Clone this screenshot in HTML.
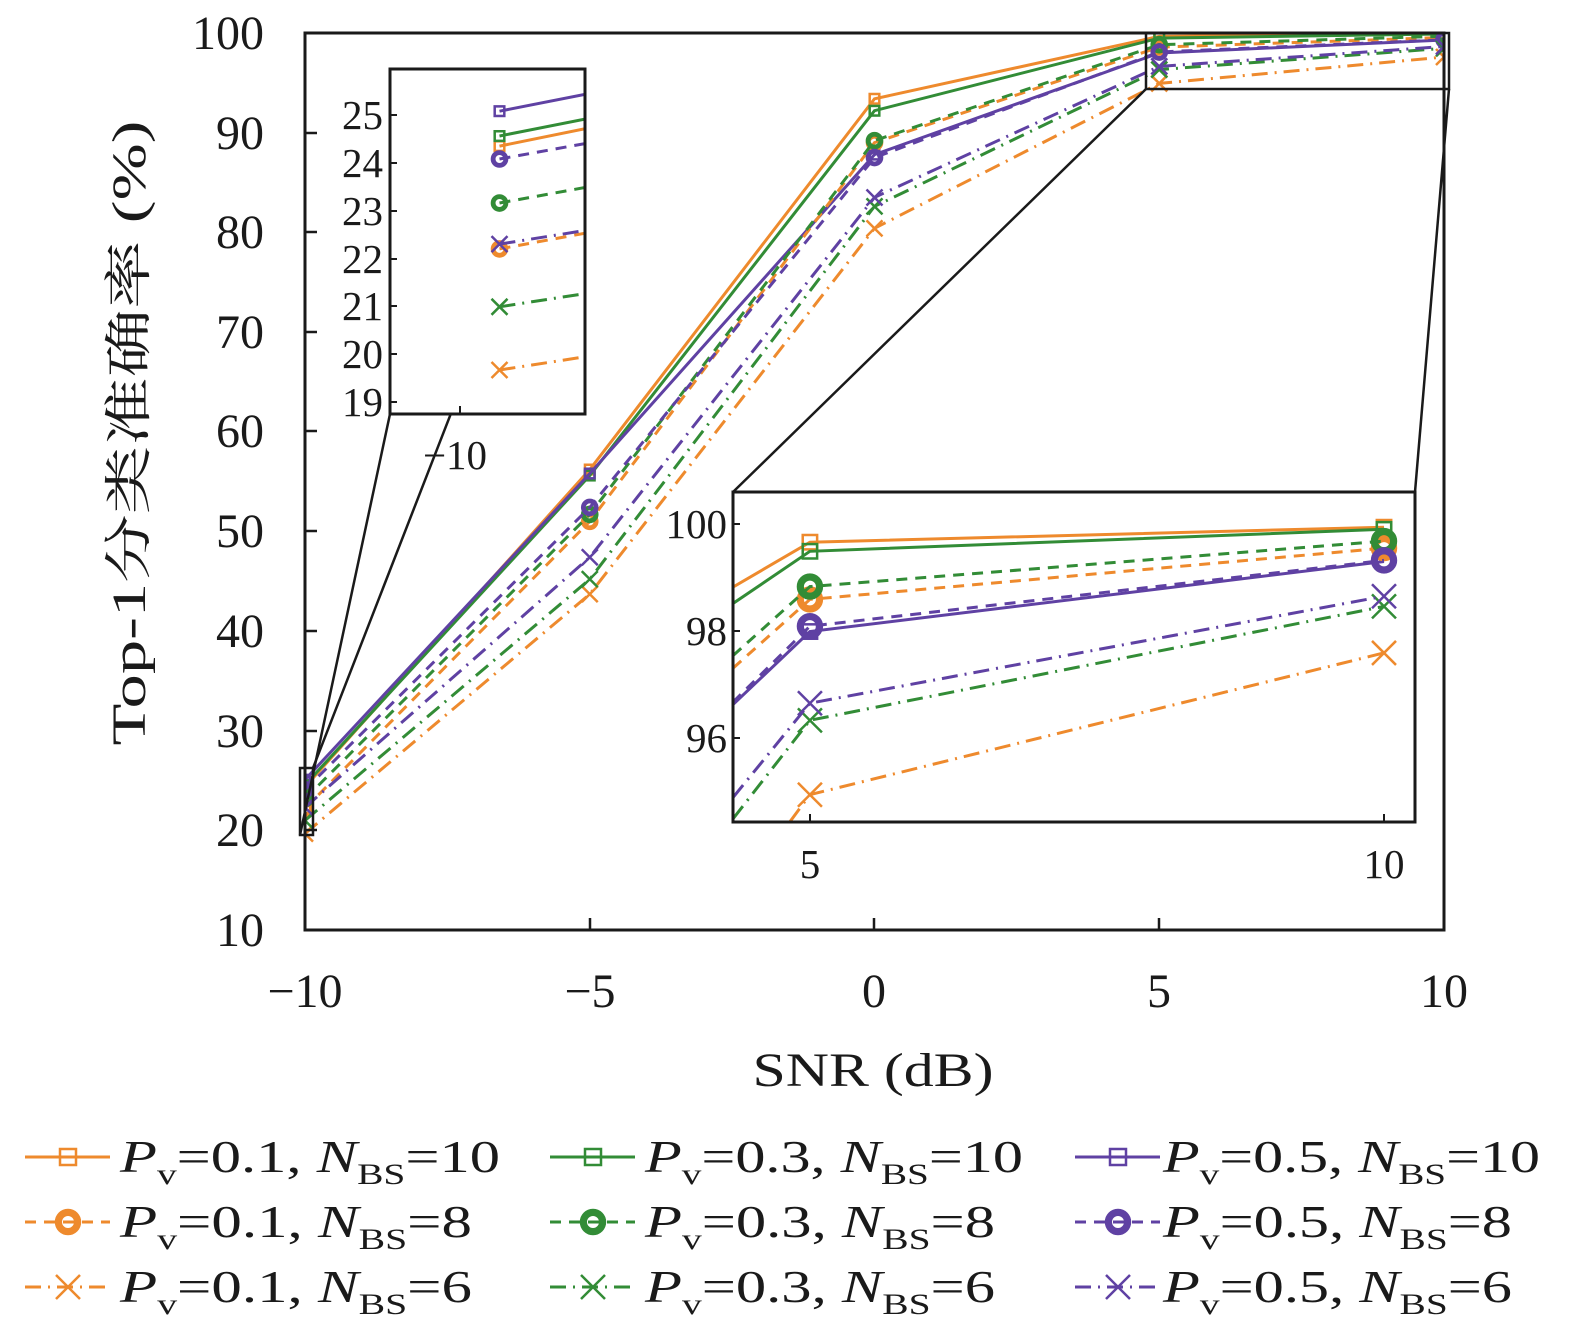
<!DOCTYPE html>
<html><head><meta charset="utf-8"><style>
html,body{margin:0;padding:0;background:#fff;overflow:hidden;width:1575px;height:1339px;}
body{position:relative;}
svg{position:absolute;left:0;top:0;display:block;}
text{font-family:"Liberation Serif","Noto Serif CJK SC",serif;fill:#1a1a1a;}
</style></head><body>
<svg id="s" width="1575" height="1339" viewBox="0 0 1575 1339" xmlns="http://www.w3.org/2000/svg" overflow="hidden">
<defs>
<clipPath id="cm"><rect x="305" y="33" width="1139" height="897"/></clipPath>
<clipPath id="cl"><rect x="390" y="69" width="195" height="345"/></clipPath>
<clipPath id="cr"><rect x="733" y="492" width="682" height="330"/></clipPath>
</defs>
<g id="main" clip-path="url(#cm)"></g>
<rect x="305" y="33" width="1139" height="897" fill="none" stroke="#1a1a1a" stroke-width="3"/>
<g stroke="#1a1a1a" stroke-width="2.5">
<line x1="305" y1="133" x2="317" y2="133"/><line x1="305" y1="232" x2="317" y2="232"/><line x1="305" y1="332" x2="317" y2="332"/><line x1="305" y1="431" x2="317" y2="431"/><line x1="305" y1="531" x2="317" y2="531"/><line x1="305" y1="631" x2="317" y2="631"/><line x1="305" y1="731" x2="317" y2="731"/><line x1="305" y1="830" x2="317" y2="830"/>
<line x1="590" y1="930" x2="590" y2="918"/><line x1="874" y1="930" x2="874" y2="918"/><line x1="1159" y1="930" x2="1159" y2="918"/>
</g>
<g font-size="48" text-anchor="end">
<text x="264" y="49">100</text><text x="264" y="149">90</text><text x="264" y="248">80</text><text x="264" y="348">70</text><text x="264" y="447">60</text><text x="264" y="547">50</text><text x="264" y="647">40</text><text x="264" y="747">30</text><text x="264" y="846">20</text><text x="264" y="946">10</text>
</g>
<g font-size="48" text-anchor="middle">
<text x="305" y="1007">−10</text><text x="590" y="1007">−5</text><text x="874" y="1007">0</text><text x="1159" y="1007">5</text><text x="1444" y="1007">10</text>
<text x="873" y="1086" textLength="241" lengthAdjust="spacingAndGlyphs">SNR (dB)</text>
</g>
<text font-size="48" text-anchor="middle" transform="translate(145,433) rotate(-90)" textLength="625" lengthAdjust="spacingAndGlyphs">Top-1分类准确率 (%)</text>
<g stroke="#1a1a1a" stroke-width="2.5" fill="none">
<rect x="300" y="768" width="13" height="67"/>
<rect x="1146" y="33" width="303" height="56"/>
<line x1="585" y1="69" x2="313" y2="768"/>
<line x1="390" y1="414" x2="300" y2="835"/>
<line x1="733" y1="492" x2="1146" y2="89"/>
<line x1="1415" y1="492" x2="1449" y2="89"/>
</g>
<rect x="390" y="69" width="195" height="345" fill="#fff"/>
<g id="li" clip-path="url(#cl)"></g>
<rect x="390" y="69" width="195" height="345" fill="none" stroke="#1a1a1a" stroke-width="3"/>
<g stroke="#1a1a1a" stroke-width="2"><line x1="460" y1="414" x2="460" y2="406"/>
<line x1="390" y1="115" x2="397" y2="115"/><line x1="390" y1="163" x2="397" y2="163"/><line x1="390" y1="211" x2="397" y2="211"/><line x1="390" y1="259" x2="397" y2="259"/><line x1="390" y1="306" x2="397" y2="306"/><line x1="390" y1="354" x2="397" y2="354"/><line x1="390" y1="402" x2="397" y2="402"/></g>
<g font-size="41" text-anchor="end">
<text x="383" y="129">25</text><text x="383" y="177">24</text><text x="383" y="225">23</text><text x="383" y="273">22</text><text x="383" y="320">21</text><text x="383" y="368">20</text><text x="383" y="416">19</text>
</g>
<text x="455" y="469" font-size="41" text-anchor="middle">−10</text>
<rect x="733" y="492" width="682" height="330" fill="#fff"/>
<g id="ri" clip-path="url(#cr)"></g>
<rect x="733" y="492" width="682" height="330" fill="none" stroke="#1a1a1a" stroke-width="3"/>
<g stroke="#1a1a1a" stroke-width="2"><line x1="810" y1="822" x2="810" y2="814"/><line x1="1384" y1="822" x2="1384" y2="814"/>
<line x1="733" y1="524" x2="740" y2="524"/><line x1="733" y1="631" x2="740" y2="631"/><line x1="733" y1="738" x2="740" y2="738"/></g>
<g font-size="41" text-anchor="end">
<text x="727" y="538">100</text><text x="727" y="645">98</text><text x="727" y="752">96</text>
</g>
<g font-size="41" text-anchor="middle"><text x="810" y="878">5</text><text x="1384" y="878">10</text></g>
<g id="leg"></g>
<g font-size="46">
<text x="120" y="1172" textLength="380" lengthAdjust="spacingAndGlyphs"><tspan font-style="italic">P</tspan><tspan font-size="30" dy="12">v</tspan><tspan dy="-12">=0.1,  </tspan><tspan font-style="italic">N</tspan><tspan font-size="30" dy="12">BS</tspan><tspan dy="-12">=10</tspan></text>
<text x="120" y="1237" textLength="352" lengthAdjust="spacingAndGlyphs"><tspan font-style="italic">P</tspan><tspan font-size="30" dy="12">v</tspan><tspan dy="-12">=0.1,  </tspan><tspan font-style="italic">N</tspan><tspan font-size="30" dy="12">BS</tspan><tspan dy="-12">=8</tspan></text>
<text x="120" y="1302" textLength="352" lengthAdjust="spacingAndGlyphs"><tspan font-style="italic">P</tspan><tspan font-size="30" dy="12">v</tspan><tspan dy="-12">=0.1,  </tspan><tspan font-style="italic">N</tspan><tspan font-size="30" dy="12">BS</tspan><tspan dy="-12">=6</tspan></text>
<text x="645" y="1172" textLength="378" lengthAdjust="spacingAndGlyphs"><tspan font-style="italic">P</tspan><tspan font-size="30" dy="12">v</tspan><tspan dy="-12">=0.3,  </tspan><tspan font-style="italic">N</tspan><tspan font-size="30" dy="12">BS</tspan><tspan dy="-12">=10</tspan></text>
<text x="645" y="1237" textLength="350" lengthAdjust="spacingAndGlyphs"><tspan font-style="italic">P</tspan><tspan font-size="30" dy="12">v</tspan><tspan dy="-12">=0.3,  </tspan><tspan font-style="italic">N</tspan><tspan font-size="30" dy="12">BS</tspan><tspan dy="-12">=8</tspan></text>
<text x="645" y="1302" textLength="350" lengthAdjust="spacingAndGlyphs"><tspan font-style="italic">P</tspan><tspan font-size="30" dy="12">v</tspan><tspan dy="-12">=0.3,  </tspan><tspan font-style="italic">N</tspan><tspan font-size="30" dy="12">BS</tspan><tspan dy="-12">=6</tspan></text>
<text x="1163" y="1172" textLength="377" lengthAdjust="spacingAndGlyphs"><tspan font-style="italic">P</tspan><tspan font-size="30" dy="12">v</tspan><tspan dy="-12">=0.5,  </tspan><tspan font-style="italic">N</tspan><tspan font-size="30" dy="12">BS</tspan><tspan dy="-12">=10</tspan></text>
<text x="1163" y="1237" textLength="349" lengthAdjust="spacingAndGlyphs"><tspan font-style="italic">P</tspan><tspan font-size="30" dy="12">v</tspan><tspan dy="-12">=0.5,  </tspan><tspan font-style="italic">N</tspan><tspan font-size="30" dy="12">BS</tspan><tspan dy="-12">=8</tspan></text>
<text x="1163" y="1302" textLength="349" lengthAdjust="spacingAndGlyphs"><tspan font-style="italic">P</tspan><tspan font-size="30" dy="12">v</tspan><tspan dy="-12">=0.5,  </tspan><tspan font-style="italic">N</tspan><tspan font-size="30" dy="12">BS</tspan><tspan dy="-12">=6</tspan></text>
</g>
</svg>
<script>
var NS="http://www.w3.org/2000/svg";
var O="#ee8a2d",G="#328c36",P="#5f41a3";
var X=[-10,-5,0,5,10];
var S=[
 {c:O,t:"s",d:"",v:[24.35,56.2,93.4,99.66,99.94]},
 {c:G,t:"s",d:"",v:[24.56,55.6,92.2,99.49,99.9]},
 {c:P,t:"s",d:"",v:[25.08,55.8,87.8,97.99,99.3]},
 {c:O,t:"o",d:"11 8",v:[22.2,51.0,89.0,98.59,99.55]},
 {c:G,t:"o",d:"11 8",v:[23.16,51.7,89.2,98.83,99.68]},
 {c:P,t:"o",d:"11 8",v:[24.08,52.4,87.5,98.09,99.32]},
 {c:O,t:"x",d:"16 7 2 7",v:[19.67,43.7,80.4,94.94,97.59]},
 {c:G,t:"x",d:"16 7 2 7",v:[20.99,45.2,82.6,96.33,98.46]},
 {c:P,t:"x",d:"16 7 2 7",v:[22.3,47.4,83.5,96.65,98.65]}
];
function el(n,a,p){var e=document.createElementNS(NS,n);for(var k in a)e.setAttribute(k,a[k]);p.appendChild(e);return e;}
function mk(g,t,c,x,y,s){
 if(t=="s")el("rect",{x:x-s,y:y-s,width:2*s,height:2*s,fill:"none",stroke:c,"stroke-width":2.5},g);
 else if(t=="o")el("circle",{cx:x,cy:y,r:s*0.8,fill:"none",stroke:c,"stroke-width":s*0.6},g);
 else el("path",{d:"M"+(x-s)+" "+(y-s)+"L"+(x+s)+" "+(y+s)+"M"+(x-s)+" "+(y+s)+"L"+(x+s)+" "+(y-s),stroke:c,"stroke-width":2.5,fill:"none"},g);
}
function interp(v,x){
 for(var i=0;i<4;i++){if(x>=X[i]&&x<=X[i+1])return v[i]+(v[i+1]-v[i])*(x-X[i])/5;}
 return x<X[0]?v[0]:v[4];
}
function draw(id,x0,x1,px0,px1,y0,y1,py0,py1,ms){
 var g=document.getElementById(id);
 function fx(x){return px0+(x-x0)/(x1-x0)*(px1-px0);}
 function fy(y){return py0+(y-y0)/(y1-y0)*(py1-py0);}
 var xa=Math.max(x0,-10),xb=Math.min(x1,10);
 S.forEach(function(s){
  var pts=[[xa,interp(s.v,xa)]];
  X.forEach(function(x,i){if(x>xa&&x<xb)pts.push([x,s.v[i]]);});
  pts.push([xb,interp(s.v,xb)]);
  var d="";pts.forEach(function(p,i){d+=(i?"L":"M")+fx(p[0]).toFixed(1)+" "+fy(p[1]).toFixed(1);});
  var a={d:d,fill:"none",stroke:s.c,"stroke-width":3};if(s.d)a["stroke-dasharray"]=s.d;
  el("path",a,g);
  X.forEach(function(x,i){if(x>=xa&&x<=xb)mk(g,s.t,s.c,fx(x),fy(s.v[i]),s.t=="s"?ms*0.6:ms);});
 });
}
draw("main",-10,10,305,1444,100,10,33,930,8);
draw("li",-10.073,-9.943,390,585,25,19,115,402,8);
draw("ri",4.33,10.27,733,1415,100,96,524,738,12);
var lg=document.getElementById("leg");
var cols=[[25,110,68],[550,635,593],[1075,1160,1118]],rows=[1157,1222,1287];
for(var c=0;c<3;c++)for(var r=0;r<3;r++){
 var s=S[c+3*r],x=cols[c],y=rows[r];
 var a={x1:x[0],y1:y,x2:x[1],y2:y,stroke:s.c,"stroke-width":3};if(s.d)a["stroke-dasharray"]=s.d;
 el("line",a,lg);mk(lg,s.t,s.c,x[2],y,s.t=="s"?8:12);
}
</script>
</body></html>
